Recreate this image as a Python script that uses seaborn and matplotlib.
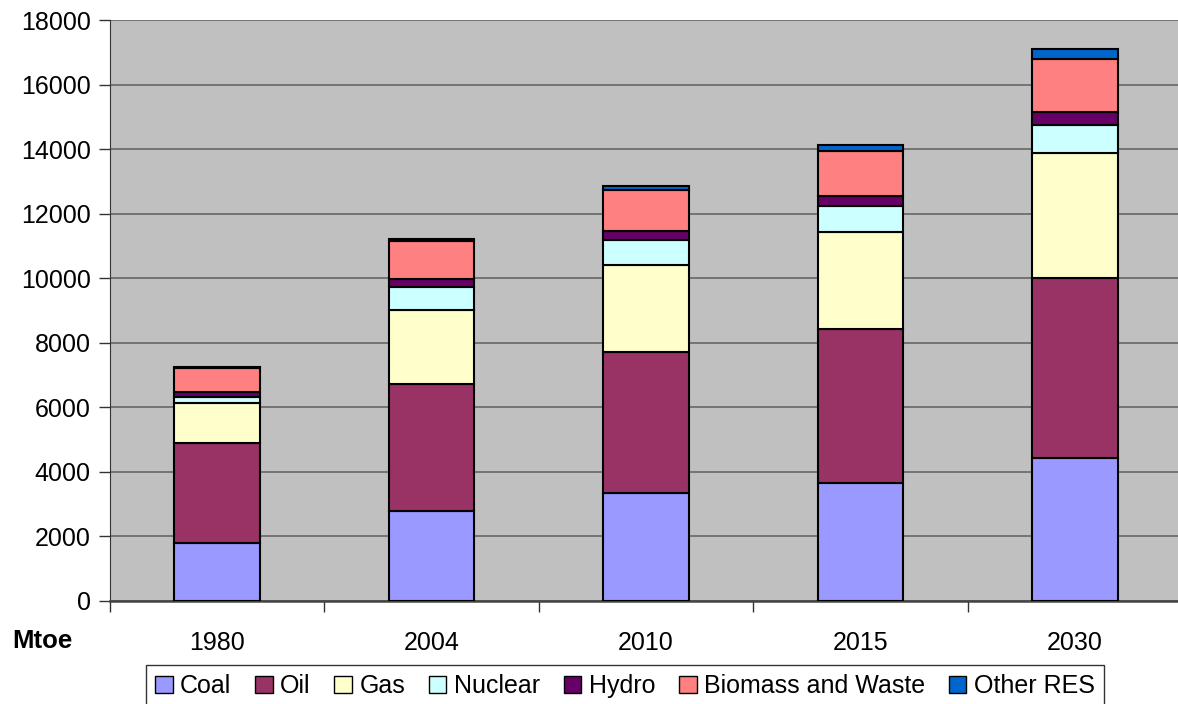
import matplotlib.pyplot as plt
import seaborn as sns
import numpy as np
from matplotlib.patches import Patch

years = ['1980', '2004', '2010', '2015', '2030']
sources = ['Coal', 'Oil', 'Gas', 'Nuclear', 'Hydro', 'Biomass and Waste', 'Other RES']
colors = ['#9999FF', '#993366', '#FFFFCC', '#CCFFFF', '#660066', '#FF8080', '#0066CC']

# Mtoe
coal = [1785, 2773, 3354, 3666, 4441]
oil = [3107, 3940, 4366, 4750, 5575]
gas = [1235, 2302, 2686, 3017, 3869]
nuclear = [186, 714, 775, 810, 861]
hydro = [148, 242, 280, 317, 408]
biomass = [765, 1176, 1283, 1375, 1645]
other_res = [33, 57, 109, 178, 296]

series = [coal, oil, gas, nuclear, hydro, biomass, other_res]

sns.set_style('white')
plt.rcParams['font.family'] = ['Liberation Sans', 'DejaVu Sans']
plt.rcParams['text.color'] = 'black'

fig = plt.figure(figsize=(11.78, 7.04), dpi=100)
# plot area runs past the right edge of the picture, as in the original crop
ax = fig.add_axes([110 / 1178, 103 / 704, 1072 / 1178, 581 / 704])
ax.set_facecolor('#C0C0C0')

bottom = np.zeros(len(years))
for name, vals, col in zip(sources, series, colors):
    sns.barplot(x=years, y=vals, bottom=bottom, color=col, saturation=1, width=0.4,
                edgecolor='black', linewidth=1.5, ax=ax, zorder=3)
    bottom = bottom + np.array(vals)

ax.set_ylim(0, 18000)
ax.set_xlim(-0.5, 4.5)
ax.set_yticks(range(0, 18001, 2000))
ax.yaxis.grid(True, color='#6E6E6E', linewidth=1.3)
ax.set_axisbelow(True)

for side in ['top', 'right']:
    ax.spines[side].set_visible(False)
ax.spines['left'].set_color('#333333')
ax.spines['bottom'].set_color('#444444')
ax.spines['bottom'].set_linewidth(1.8)

ax.tick_params(axis='y', left=True, length=8, width=1, color='#333333',
               labelsize=18, labelcolor='black', pad=6)
ax.tick_params(axis='x', bottom=False, labelsize=18, labelcolor='black', pad=18)
ax.set_xticks(np.arange(-0.5, 4.6, 1), minor=True)
ax.tick_params(axis='x', which='minor', bottom=True, length=8, width=1, color='#333333')
ax.set_xlabel('')
ax.set_ylabel('')

fig.text(12 / 1178, 1 - 641 / 704, 'Mtoe', fontsize=18.5, fontweight='bold',
         color='black', va='center', ha='left')

handles = [Patch(facecolor=c, edgecolor='black', label=s) for s, c in zip(sources, colors)]
leg = fig.legend(handles=handles, loc='lower center', bbox_to_anchor=(625 / 1178, -0.022),
                 ncol=7, fontsize=18, frameon=True, fancybox=False, edgecolor='black',
                 handlelength=0.7, handleheight=0.7, handletextpad=0.3, columnspacing=0.95,
                 borderpad=0.35)
leg.get_frame().set_linewidth(1)
for t in leg.get_texts():
    t.set_color('black')

fig.savefig('out.png', dpi=100)
